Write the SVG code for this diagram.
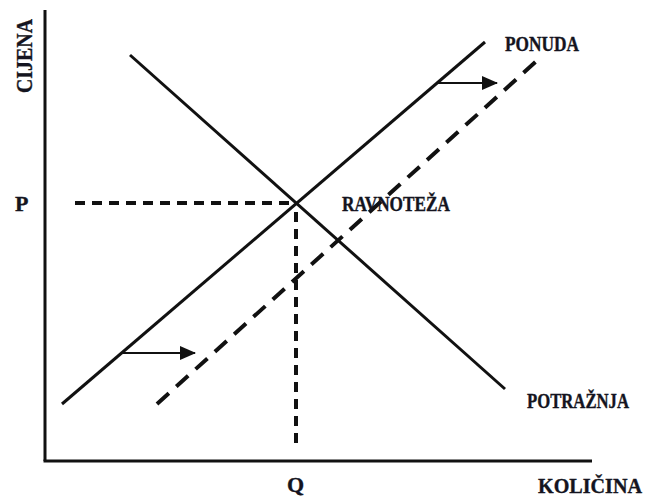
<svg xmlns="http://www.w3.org/2000/svg" width="649" height="498" viewBox="0 0 649 498">
<style>
.lbl{font-family:"Liberation Serif","Times New Roman",serif;font-weight:bold;fill:#141420;stroke:#141420;stroke-width:0.35;}
.solid{stroke:#111;stroke-width:3;fill:none;}
.dash{stroke:#111;stroke-width:4;fill:none;}
.arr{stroke:#111;stroke-width:2;fill:none;}
</style>
<defs>
<marker id="ah" viewBox="0 0 16 14" refX="15" refY="7" markerWidth="16" markerHeight="14" markerUnits="userSpaceOnUse" orient="auto">
<path d="M0,0 L16,7 L0,14 Z" fill="#111"/>
</marker>
</defs>
<rect width="649" height="498" fill="#fff"/>
<g id="axes">
<line class="solid" x1="45" y1="10" x2="45" y2="461"/>
<line class="solid" x1="43.5" y1="461" x2="592" y2="461"/>
</g>
<g id="connectors">
<line id="supply" class="solid" x1="62" y1="404" x2="485" y2="42"/>
<line id="demand" class="solid" x1="130" y1="55" x2="505" y2="389"/>
<line id="supply2" class="dash" x1="157" y1="404" x2="541" y2="57" stroke-dasharray="16 10"/>
<line id="pline" class="dash" x1="75" y1="203" x2="292" y2="203" stroke-dasharray="10 7"/>
<line id="qline" class="dash" x1="296" y1="212" x2="296" y2="446" stroke-dasharray="10 7"/>
<line id="shift1" class="arr" x1="436" y1="83" x2="497" y2="83" marker-end="url(#ah)"/>
<line id="shift2" class="arr" x1="123" y1="353" x2="195" y2="353" marker-end="url(#ah)"/>
</g>
<g id="label-cijena"><text class="lbl" font-size="23" transform="translate(32,93) rotate(-90)" textLength="74" lengthAdjust="spacingAndGlyphs">CIJENA</text></g>
<g id="label-p"><text class="lbl" font-size="22" x="15" y="211">P</text></g>
<g id="label-q"><text class="lbl" font-size="22" x="287" y="492">Q</text></g>
<g id="label-kolicina"><text class="lbl" font-size="21" x="538" y="493" textLength="104" lengthAdjust="spacingAndGlyphs">KOLIČINA</text></g>
<g id="label-ponuda"><text class="lbl" font-size="20" x="505" y="51" textLength="74" lengthAdjust="spacingAndGlyphs">PONUDA</text></g>
<g id="label-ravnoteza"><text class="lbl" font-size="20" x="342" y="211" textLength="108" lengthAdjust="spacingAndGlyphs">RAVNOTEŽA</text></g>
<g id="label-potraznja"><text class="lbl" font-size="20" x="527" y="408" textLength="102" lengthAdjust="spacingAndGlyphs">POTRAŽNJA</text></g>
</svg>
